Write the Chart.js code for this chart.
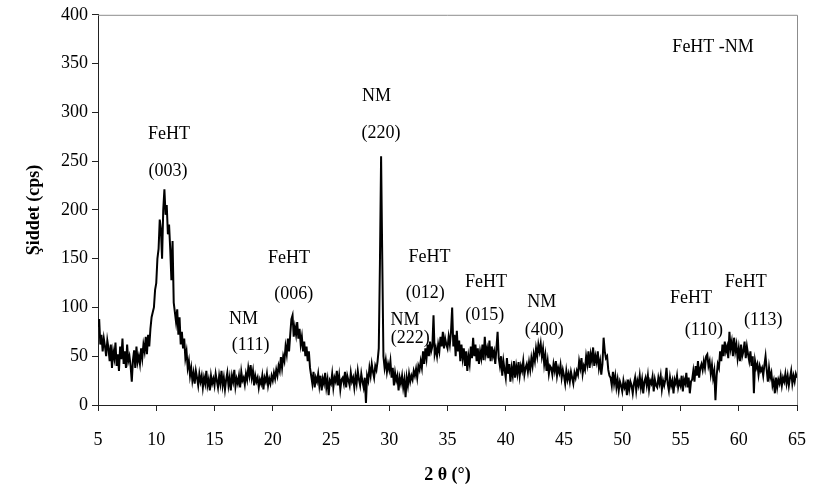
<!DOCTYPE html>
<html>
<head>
<meta charset="utf-8">
<script src="https://cdn.jsdelivr.net/npm/chart.js@4"></script>
<style>
  html, body { margin: 0; padding: 0; background: #fff; }
  #wrap { width: 824px; height: 488px; }
</style>
</head>
<body>
<div id="wrap"><canvas id="xrd" width="824" height="488"></canvas></div>
<script>
// 2θ sampling: 5.0° to 65.0°, one reading every 0.1°
const startAngle = 5;
const stepAngle = 0.1;

// intensity (cps), one row per degree
const intensity = [
  80, 88, 62, 72, 55, 68, 60, 50, 66, 58,       // 5
  45, 62, 38, 55, 48, 64, 40, 52, 35, 60,       // 6
  47, 68, 42, 55, 38, 62, 45, 50, 40, 24,       // 7
  46, 56, 38, 60, 44, 50, 42, 58, 48, 62,       // 8
  55, 70, 52, 72, 60, 78, 90, 95, 100, 118,     // 9
  125, 150, 160, 190, 180, 150, 200, 221, 195, 205, // 10
  175, 185, 160, 128, 168, 105, 95, 85, 98, 72, // 11
  90, 62, 75, 58, 68, 48, 55, 38, 45, 30,       // 12
  38, 25, 33, 22, 35, 28, 20, 32, 24, 30,       // 13
  18, 28, 22, 35, 20, 26, 15, 30, 22, 27,       // 14
  20, 32, 25, 18, 30, 22, 35, 20, 28, 16,       // 15
  26, 33, 20, 28, 15, 30, 24, 36, 19, 27,       // 16
  22, 30, 18, 34, 25, 28, 21, 32, 26, 38,       // 17
  30, 41, 28, 35, 20, 30, 24, 28, 18, 26,       // 18
  22, 30, 16, 28, 24, 32, 20, 27, 22, 30,       // 19
  25, 33, 27, 36, 30, 40, 35, 49, 38, 50,       // 20
  45, 60, 52, 68, 55, 72, 88, 92, 70, 80,       // 21
  72, 85, 68, 78, 62, 70, 55, 65, 50, 60,       // 22
  45, 55, 38, 30, 22, 34, 18, 28, 24, 32,       // 23
  20, 30, 15, 27, 22, 33, 18, 26, 10, 25,       // 24
  22, 32, 18, 28, 24, 35, 20, 30, 16, 26,       // 25
  28, 22, 34, 18, 30, 25, 20, 33, 24, 28,       // 26
  18, 30, 22, 35, 26, 20, 32, 24, 18, 28,       // 27
  2, 30, 25, 38, 30, 42, 34, 28, 40, 36,        // 28
  45, 58, 145, 255, 150, 50, 38, 46, 34, 42,    // 29
  36, 45, 28, 38, 20, 33, 25, 30, 15, 28,       // 30
  22, 30, 18, 26, 8, 28, 20, 32, 24, 30,        // 31
  26, 35, 30, 37, 28, 40, 36, 45, 38, 55,       // 32
  42, 58, 48, 62, 50, 65, 55, 60, 92, 52,       // 33
  58, 50, 62, 55, 70, 60, 75, 58, 68, 62,       // 34
  58, 70, 62, 75, 100, 60, 72, 50, 76, 55,      // 35
  66, 45, 62, 48, 58, 40, 55, 35, 50, 42,       // 36
  60, 48, 69, 50, 62, 45, 58, 42, 55, 48,       // 37
  62, 46, 70, 52, 58, 48, 66, 45, 60, 50,       // 38
  55, 42, 58, 75, 48, 40, 50, 30, 45, 36,       // 39
  28, 48, 32, 42, 24, 38, 30, 45, 28, 40,       // 40
  32, 44, 30, 40, 35, 45, 31, 38, 42, 34,       // 41
  44, 36, 48, 40, 52, 45, 58, 50, 62, 55,       // 42
  63, 50, 58, 42, 51, 35, 45, 32, 40, 38,       // 43
  31, 42, 35, 45, 30, 38, 33, 41, 28, 36,       // 44
  30, 22, 35, 26, 32, 24, 34, 28, 22, 33,       // 45
  28, 35, 31, 45, 38, 48, 32, 40, 36, 50,       // 46
  42, 55, 38, 52, 45, 59, 40, 50, 44, 55,       // 47
  38, 45, 31, 42, 69, 55, 48, 50, 36, 30,       // 48
  28, 20, 34, 22, 30, 18, 26, 15, 24, 20,       // 49
  14, 25, 18, 22, 10, 26, 16, 24, 20, 12,       // 50
  22, 28, 15, 25, 20, 30, 18, 26, 12, 24,       // 51
  28, 20, 30, 16, 25, 22, 29, 14, 26, 20,       // 52
  18, 28, 22, 30, 16, 25, 20, 26, 38, 22,       // 53
  15, 28, 20, 25, 12, 26, 22, 30, 18, 24,       // 54
  20, 30, 14, 26, 22, 33, 18, 28, 12, 24,       // 55
  26, 35, 24, 40, 30, 45, 28, 38, 42, 36,       // 56
  45, 38, 50, 52, 40, 45, 32, 41, 28, 35,       // 57
  5, 30, 42, 38, 55, 45, 62, 50, 65, 55,        // 58
  60, 48, 75, 58, 65, 50, 69, 55, 62, 48,       // 59
  58, 45, 62, 50, 55, 65, 48, 60, 52, 45,       // 60
  55, 40, 50, 12, 45, 38, 42, 31, 40, 35,       // 61
  38, 30, 41, 50, 36, 24, 38, 28, 33, 20,       // 62
  25, 12, 28, 18, 26, 22, 30, 20, 28, 24,       // 63
  32, 22, 30, 20, 28, 35, 22, 30, 24, 32,       // 64
  28                                            // 65
];

// peak labels, placed in data units (2θ, cps)
const labelTexts  = ['FeHT', '(003)', 'NM', '(111)', 'FeHT', '(006)', 'NM', '(220)', 'NM', '(222)',
                     'FeHT', '(012)', 'FeHT', '(015)', 'NM', '(400)', 'FeHT', '(110)', 'FeHT', '(113)', 'FeHT -NM'];
const labelAngles = [11.1, 11.0, 17.5, 18.1, 21.4, 21.8, 28.9, 29.3, 31.35, 31.8,
                     33.45, 33.1, 38.3, 38.2, 43.1, 43.3, 55.9, 57.0, 60.6, 62.1, 57.8];
const labelLevels = [278, 240, 88, 61, 150, 114, 316, 279, 87, 68,
                     151, 115, 126, 92, 105, 77, 109, 77, 126, 87, 367];

const serif = "'Liberation Serif', 'Times New Roman', serif";

const points = intensity.map((v, i) => ({ x: +(startAngle + i * stepAngle).toFixed(1), y: v }));

const peakLabels = {
  id: 'peakLabels',
  afterDatasetsDraw(chart) {
    const { ctx, scales: { x, y } } = chart;
    ctx.save();
    ctx.font = '18px ' + serif;
    ctx.fillStyle = '#000';
    ctx.textAlign = 'center';
    ctx.textBaseline = 'middle';
    labelTexts.forEach((t, i) => {
      ctx.fillText(t, x.getPixelForValue(labelAngles[i]), y.getPixelForValue(labelLevels[i]));
    });
    ctx.restore();
  }
};

const frame = { // grey top and right edges of the plot box
  id: 'frame',
  afterDraw(chart) {
    const { ctx, chartArea: a } = chart;
    ctx.save();
    ctx.strokeStyle = '#8c8c8c';
    ctx.lineWidth = 1;
    ctx.beginPath();
    ctx.moveTo(a.left, a.top + 0.5);
    ctx.lineTo(a.right + 0.5, a.top + 0.5);
    ctx.lineTo(a.right + 0.5, a.bottom);
    ctx.stroke();
    ctx.restore();
  }
};

new Chart(document.getElementById('xrd'), {
  type: 'line',
  data: {
    datasets: [{
      data: points,
      borderColor: '#000',
      borderWidth: 2,
      pointRadius: 0,
      tension: 0,
      fill: false
    }]
  },
  options: {
    responsive: false,
    animation: false,
    layout: { padding: { top: 13, right: 14, left: 0, bottom: 0 } },
    plugins: { legend: { display: false }, tooltip: { enabled: false } },
    scales: {
      x: {
        type: 'linear',
        min: 5, max: 65,
        afterFit(s) { s.height = 83; },
        grid: { drawOnChartArea: false, drawTicks: true, tickLength: 6, color: '#222' },
        border: { color: '#222', width: 1 },
        ticks: { stepSize: 5, padding: 18, color: '#000', font: { family: serif, size: 18 } },
        title: { display: true, text: '2 θ (°)', color: '#000', padding: { top: 0, bottom: 2 },
                 font: { family: serif, size: 18, weight: 'bold' } }
      },
      y: {
        min: 0, max: 400,
        afterFit(s) { s.width = 98; },
        grid: { drawOnChartArea: false, drawTicks: true, tickLength: 6, color: '#222' },
        border: { color: '#222', width: 1 },
        ticks: { stepSize: 50, padding: 4, color: '#000', font: { family: serif, size: 18 } },
        title: { display: true, text: 'Şiddet (cps)', color: '#000', padding: { top: 24, bottom: 0 },
                 font: { family: serif, size: 18, weight: 'bold' } }
      }
    }
  },
  plugins: [peakLabels, frame]
});
</script>
</body>
</html>
